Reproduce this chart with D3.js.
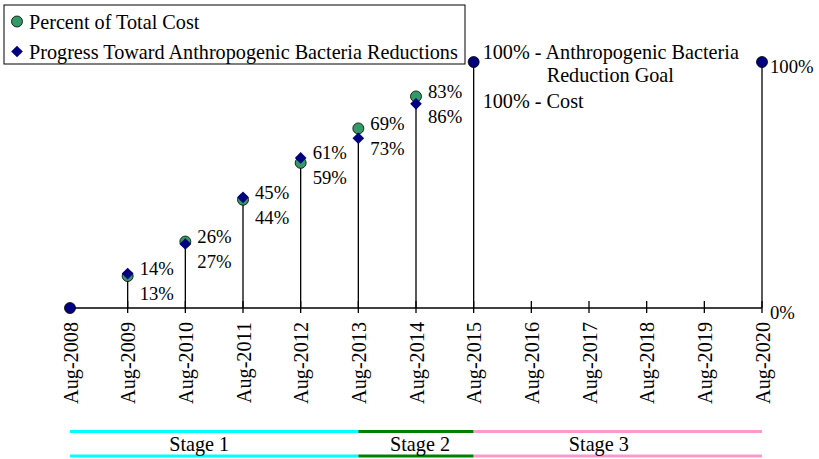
<!DOCTYPE html>
<html>
<head>
<meta charset="utf-8">
<script src="https://cdn.jsdelivr.net/npm/d3@7"></script>
<style>
  body { margin: 0; background: #fff; }
</style>
</head>
<body>
<svg id="chart" width="819" height="459" style="font-family: 'Liberation Serif', 'Times New Roman', Times, serif;"></svg>
<script>
// Categories (x axis)
var years = ["Aug-2008", "Aug-2009", "Aug-2010", "Aug-2011", "Aug-2012", "Aug-2013", "Aug-2014",
  "Aug-2015", "Aug-2016", "Aug-2017", "Aug-2018", "Aug-2019", "Aug-2020"];

// Series values (null = no point)
var costPct = [0, 13, 27, 44, 59, 73, 86, 100, null, null, null, null, 100];
var progressPct = [0, 14, 26, 45, 61, 69, 83, 100, null, null, null, null, 100];

// Milestones drawn as plain round markers
var milestones = ["Aug-2008", "Aug-2015", "Aug-2020"];

// Stages along the bottom
var stageNames = ["Stage 1", "Stage 2", "Stage 3"];
var stageStart = ["Aug-2008", "Aug-2013", "Aug-2015"];
var stageEnd = ["Aug-2013", "Aug-2015", "Aug-2020"];
var stageColors = ["#00ffff", "#008000", "#ff99cc"];

var yTicks = [0, 100];

var svg = d3.select("#chart");

var x = d3.scalePoint().domain(years).range([70, 762]);
var y = d3.scaleLinear().domain([0, 100]).range([308, 62]);

var SMALL = "18.7px", BIG = "20.2px";

// rows of points with data
var rows = years.map(function(d, i) {
  return {year: d, cost: costPct[i], progress: progressPct[i]};
}).filter(function(d) { return d.cost !== null; });

// Drop lines (from the highest point down to baseline)
svg.append("g").selectAll("line")
  .data(rows.filter(function(d) { return d.year !== years[0]; }))
  .enter().append("line")
  .attr("x1", function(d) { return x(d.year); })
  .attr("x2", function(d) { return x(d.year); })
  .attr("y1", function(d) { return y(Math.max(d.cost, d.progress)); })
  .attr("y2", y(0))
  .attr("stroke", "#000")
  .attr("stroke-width", 1.3);

// X axis line with crossing ticks
var axis = svg.append("g");
axis.append("line")
  .attr("x1", x(years[0])).attr("x2", x(years[years.length - 1]))
  .attr("y1", y(0)).attr("y2", y(0))
  .attr("stroke", "#000").attr("stroke-width", 1.3);
axis.selectAll(".tick")
  .data(years.slice(1))
  .enter().append("line")
  .attr("x1", function(d) { return x(d); })
  .attr("x2", function(d) { return x(d); })
  .attr("y1", y(0) - 7).attr("y2", y(0) + 5)
  .attr("stroke", "#000").attr("stroke-width", 1.3);

// Rotated tick labels
axis.selectAll(".lbl")
  .data(years)
  .enter().append("text")
  .attr("transform", function(d) { return "translate(" + (x(d) + 7.5) + "," + (y(0) + 14) + ") rotate(-90)"; })
  .attr("text-anchor", "end")
  .style("font-size", BIG)
  .text(function(d) { return d; });

// Right-side percent labels
svg.append("g").selectAll("text")
  .data(yTicks)
  .enter().append("text")
  .attr("x", x(years[years.length - 1]) + 8)
  .attr("y", function(d) { return y(d) + 11; })
  .style("font-size", SMALL)
  .text(function(d) { return d + "%"; });

// Markers
var diamond = d3.symbol().type(d3.symbolSquare).size(68);
var pts = rows.filter(function(d) { return milestones.indexOf(d.year) < 0; });

svg.append("g").selectAll("circle")
  .data(pts)
  .enter().append("circle")
  .attr("cx", function(d) { return x(d.year); })
  .attr("cy", function(d) { return y(d.cost); })
  .attr("r", 5.5)
  .attr("fill", "#339966")
  .attr("stroke", "#000")
  .attr("stroke-width", 0.8);

svg.append("g").selectAll("path")
  .data(pts)
  .enter().append("path")
  .attr("d", diamond)
  .attr("transform", function(d) { return "translate(" + x(d.year) + "," + y(d.progress) + ") rotate(45)"; })
  .attr("fill", "#000080");

svg.append("g").selectAll("circle")
  .data(rows.filter(function(d) { return milestones.indexOf(d.year) >= 0; }))
  .enter().append("circle")
  .attr("cx", function(d) { return x(d.year); })
  .attr("cy", function(d) { return y(d.progress); })
  .attr("r", 5.5)
  .attr("fill", "#000080")
  .attr("stroke", "#000")
  .attr("stroke-width", 0.8);

// Value labels: progress on top, cost below
var lab = svg.append("g").selectAll("g")
  .data(pts.filter(function(d) { return d.year !== years[0]; }))
  .enter().append("g")
  .attr("transform", function(d) {
    return "translate(" + (x(d.year) + 12) + "," + (y(Math.max(d.cost, d.progress)) - 5) + ")";
  });
lab.append("text")
  .attr("dy", "0.35em")
  .style("font-size", SMALL)
  .text(function(d) { return d.progress + "%"; });
lab.append("text")
  .attr("y", 25)
  .attr("dy", "0.35em")
  .style("font-size", SMALL)
  .text(function(d) { return d.cost + "%"; });

// Goal annotation at Aug-2015
var goal = svg.append("g").attr("transform", "translate(" + (x("Aug-2015") + 9) + "," + y(100) + ")");
goal.append("text").attr("y", -10.5).attr("dy", "0.35em").style("font-size", BIG)
  .text("100% - Anthropogenic Bacteria");
goal.append("text").attr("x", 64).attr("y", 13).attr("dy", "0.35em").style("font-size", BIG)
  .text("Reduction Goal");
goal.append("text").attr("y", 39).attr("dy", "0.35em").style("font-size", BIG)
  .text("100% - Cost");

// Legend
var legend = svg.append("g");
legend.append("rect")
  .attr("x", 4).attr("y", 5).attr("width", 461).attr("height", 59)
  .attr("fill", "#fff").attr("stroke", "#000").attr("stroke-width", 1);
legend.append("circle")
  .attr("cx", 17).attr("cy", 21.5).attr("r", 5.5)
  .attr("fill", "#339966").attr("stroke", "#000").attr("stroke-width", 0.8);
legend.append("path")
  .attr("d", diamond)
  .attr("transform", "translate(17,51.5) rotate(45)")
  .attr("fill", "#000080");
legend.append("text").attr("x", 29).attr("y", 21.5).attr("dy", "0.35em").style("font-size", BIG)
  .text("Percent of Total Cost");
legend.append("text").attr("x", 29).attr("y", 51.5).attr("dy", "0.35em").style("font-size", BIG)
  .text("Progress Toward Anthropogenic Bacteria Reductions");

// Stage bands
var stages = stageNames.map(function(d, i) {
  return {name: d, start: stageStart[i], end: stageEnd[i], color: stageColors[i]};
});
var labelShift = [-15, 4, -19];
var st = svg.append("g").selectAll("g").data(stages).enter().append("g");
[431.5, 456].forEach(function(yy) {
  st.append("line")
    .attr("x1", function(d) { return x(d.start); })
    .attr("x2", function(d) { return x(d.end); })
    .attr("y1", yy).attr("y2", yy)
    .attr("stroke", function(d) { return d.color; })
    .attr("stroke-width", 3);
});
st.append("text")
  .attr("x", function(d, i) { return (x(d.start) + x(d.end)) / 2 + labelShift[i]; })
  .attr("y", 444)
  .attr("dy", "0.35em")
  .attr("text-anchor", "middle")
  .style("font-size", BIG)
  .text(function(d) { return d.name; });
</script>
</body>
</html>
